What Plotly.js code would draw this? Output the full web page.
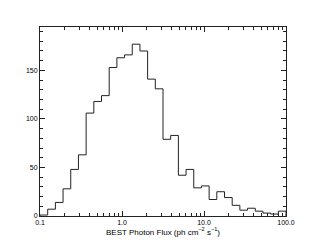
<!DOCTYPE html>
<html>
<head>
<meta charset="utf-8">
<script src="https://cdn.plot.ly/plotly-3.0.1.min.js"></script>
<style>html,body{margin:0;padding:0;background:#fff;}#chart{width:311px;height:249px;}</style>
</head>
<body>
<div id="chart"></div>
<script>
// Bin edges of the flux histogram (ph cm^-2 s^-1), 32 log-spaced bins from 0.1 to 100
var binEdges = [0.1, 0.1241, 0.1540, 0.1911, 0.2371, 0.2943, 0.3652, 0.4532, 0.5623, 0.6978,
  0.8660, 1.0746, 1.3335, 1.6548, 2.0535, 2.5483, 3.1623, 3.9242, 4.8697, 6.0430,
  7.4989, 9.3057, 11.548, 14.330, 17.783, 22.067, 27.384, 33.982, 42.170, 52.330,
  64.938, 80.584, 100.0];
// Counts per bin
var counts = [1, 7, 14, 28, 48, 63, 106, 118, 124, 153, 163, 166, 177, 170, 141, 131,
  79, 83, 42, 48, 29, 31, 17, 25, 19, 11, 6, 8, 5, 3, 2, 5];
var xTickVals = [0.1, 1, 10, 100];
var xTickText = ["0.1", "1.0", "10.0", "100.0"];
var xMinorVals = [0.2,0.3,0.4,0.5,0.6,0.7,0.8,0.9, 2,3,4,5,6,7,8,9, 20,30,40,50,60,70,80,90];
var yTickVals = [0, 50, 100, 150];
var yTickText = ["0", "50", "100", "150"];
var yMinorVals = [10,20,30,40,60,70,80,90,110,120,130,140,160,170,180,190];

// Build step outline
var xs = [binEdges[0]], ys = [0];
for (var i = 0; i < counts.length; i++) { xs.push(binEdges[i]); ys.push(counts[i]); }
xs.push(binEdges[binEdges.length - 1]); ys.push(0);

var trace = {
  x: xs, y: ys, type: 'scatter', mode: 'lines',
  line: {shape: 'hv', color: '#222', width: 1},
  hoverinfo: 'none'
};
var maxC = Math.max.apply(null, counts);
var fnt = {family: 'Liberation Sans, Arial, sans-serif', size: 7, color: '#000'};
var layout = {
  width: 311, height: 249,
  margin: {l: 40, r: 25, t: 27, b: 33},
  paper_bgcolor: '#fff', plot_bgcolor: '#fff',
  showlegend: false,
  font: fnt,
  xaxis: {
    type: 'log', range: [-1, 2],
    tickmode: 'array', tickvals: xTickVals, ticktext: xTickText,
    ticks: 'inside', ticklen: 5, tickwidth: 1, tickcolor: '#222',
    showline: true, linecolor: '#222', linewidth: 1, mirror: 'ticks',
    showgrid: false, zeroline: false,
    tickfont: fnt,
    minor: {tickmode: 'array', tickvals: xMinorVals, ticks: 'inside', ticklen: 3, tickcolor: '#222', showgrid: false},
    title: {text: 'BEST Photon Flux (ph cm<sup>\u22122</sup> s<sup>\u22121</sup>)', font: {family: 'Liberation Sans, Arial, sans-serif', size: 8, color: '#000'}, standoff: 2}
  },
  yaxis: {
    range: [0, maxC * 1.1],
    tickmode: 'array', tickvals: yTickVals, ticktext: yTickText,
    ticks: 'inside', ticklen: 5, tickwidth: 1, tickcolor: '#222',
    showline: true, linecolor: '#222', linewidth: 1, mirror: 'ticks',
    showgrid: false, zeroline: false,
    tickfont: fnt,
    minor: {tickmode: 'array', tickvals: yMinorVals, ticks: 'inside', ticklen: 3, tickcolor: '#222', showgrid: false}
  }
};
Plotly.newPlot('chart', [trace], layout, {staticPlot: true, displayModeBar: false});
</script>
</body>
</html>
